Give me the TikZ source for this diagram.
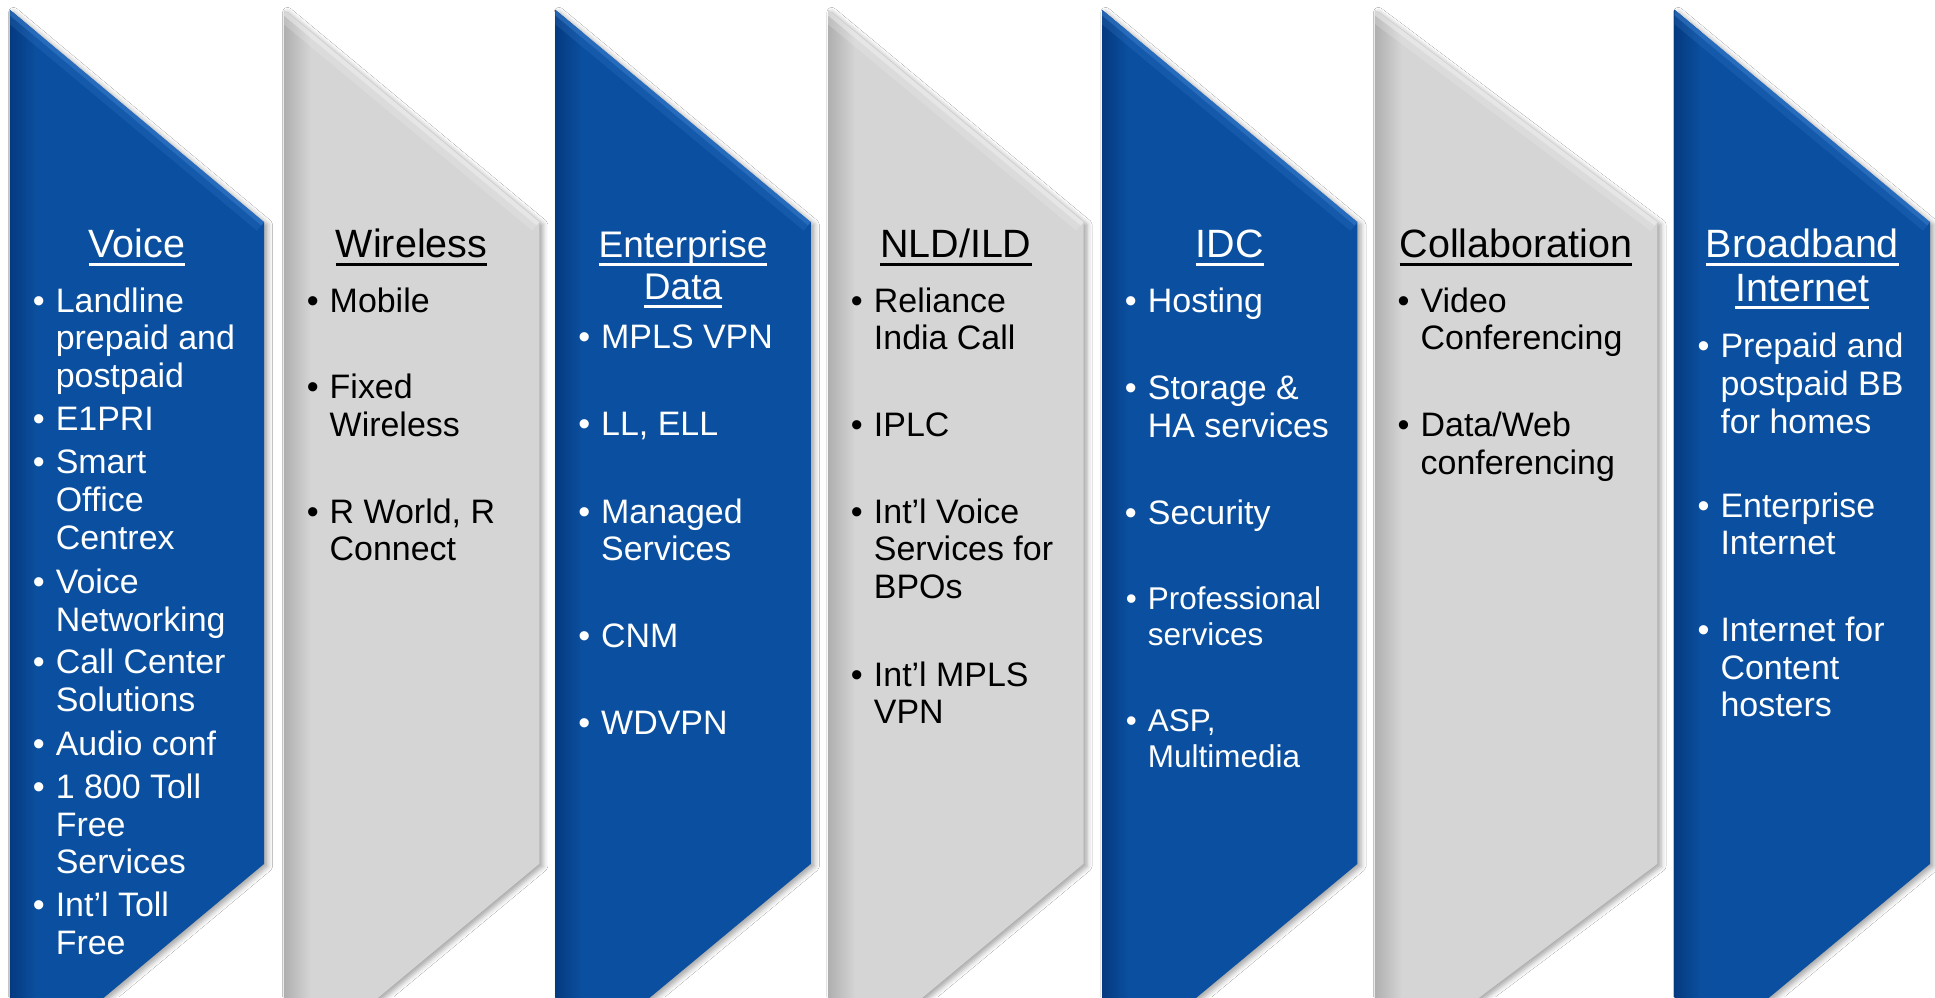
\documentclass[tikz,border=0pt]{standalone}
\usepackage{fontspec}
\setmainfont{Liberation Sans}
\usetikzlibrary{shadows.blur}

\definecolor{bmain}{HTML}{0B50A0}
\definecolor{bdark}{HTML}{053A80}
\definecolor{bhl}{HTML}{3D82D2}
\definecolor{gmain}{HTML}{D5D5D5}
\definecolor{gdark}{HTML}{AFAFAF}
\definecolor{ghl}{HTML}{F4F4F4}

% thick underline for the column headings
\newcommand\ulx[1]{\setbox0\hbox{#1}\rlap{\rule[-6.5pt]{\wd0}{2.2pt}}\box0}

% one chevron panel: #1 left x, #2 right x, #3 fill, #4 edge shade, #5 highlight
\newcommand\chev[5]{%
  \fill[#3, blur shadow={shadow xshift=3pt, shadow yshift=-2pt,
        shadow blur radius=4pt, shadow opacity=35}]
    (#1,8) -- (#2,180) -- (#2,700) -- (#1,872) -- cycle;
  \begin{scope}
    \clip (#1,8) -- (#2,180) -- (#2,700) -- (#1,872) -- cycle;
    \shade[left color=#4, right color=#3] (#1,0) rectangle ({#1+22},900);
    \draw[#5, line width=18pt, opacity=.22] (#1,8) -- (#2,180);
    \draw[#5, line width=7pt, opacity=.45] (#1,8) -- (#2,180);
  \end{scope}}

% bulleted item: [node style] {x} {first baseline} {line skip} {name} {lines}
\newcommand\bul[6][]{%
  \foreach \ln [count=\k] in {#6}{%
    \node[itm,#1] (#5-\k) at (#2,{#3+(\k-1)*#4})
      {\ifnum\k=1\llap{•\hspace{9pt}}\fi\ln};}}

\tikzset{
  itm/.style={anchor=base west, inner sep=0pt,
              font=\fontsize{27.5}{30.5}\selectfont},
  itmsmall/.style={font=\fontsize{25.5}{29}\selectfont},
  ttl/.style={anchor=base, inner sep=0pt,
              font=\fontsize{32}{36}\selectfont},
  ttlsmall/.style={font=\fontsize{30}{34}\selectfont},
  onblue/.style={every node/.append style={text=white}},
  ongray/.style={every node/.append style={text=black}}
}

\begin{document}
\begin{tikzpicture}[x=1pt, y=-1pt]
\useasboundingbox (0,0) rectangle (1568,808);
\fill[white] (0,0) rectangle (1568,808);
\begin{scope}
\clip (0,0) rectangle (1568,808);

\chev{8}{214}{bmain}{bdark}{bhl}
\chev{230}{437}{gmain}{gdark}{ghl}
\chev{450}{657}{bmain}{bdark}{bhl}
\chev{671}{878}{gmain}{gdark}{ghl}
\chev{893}{1100}{bmain}{bdark}{bhl}
\chev{1114}{1343}{gmain}{gdark}{ghl}
\chev{1357}{1564}{bmain}{bdark}{bhl}

% Voice
\begin{scope}[onblue]
  \node[ttl] (voice) at (111,209) {\ulx{Voice}};
  \bul{45}{253}{30.5}{v1}{Landline, prepaid and, postpaid}
  \bul{45}{349}{30.5}{v2}{E1PRI}
  \bul{45}{384}{30.5}{v3}{Smart, Office, Centrex}
  \bul{45}{481}{30.5}{v4}{Voice, Networking}
  \bul{45}{546}{30.5}{v5}{Call Center, Solutions}
  \bul{45}{612}{30.5}{v6}{Audio conf}
  \bul{45}{647}{30.5}{v7}{1 800 Toll, Free, Services}
  \bul{45}{743}{30.5}{v8}{Int’l Toll, Free}
\end{scope}

% Wireless
\begin{scope}[ongray]
  \node[ttl] (wireless) at (333.5,209) {\ulx{Wireless}};
  \bul{267}{253}{30.5}{w1}{Mobile}
  \bul{267}{323}{30.5}{w2}{Fixed, Wireless}
  \bul{267}{424}{30.5}{w3}{{R World, R}, Connect}
\end{scope}

% Enterprise Data
\begin{scope}[onblue]
  \node[ttl, ttlsmall] (ent1) at (553.5,209) {\ulx{Enterprise}};
  \node[ttl, ttlsmall] (ent2) at (553.5,243) {\ulx{Data}};
  \bul{487}{282}{30.5}{e1}{MPLS VPN}
  \bul{487}{353}{30.5}{e2}{{LL, ELL}}
  \bul{487}{424}{30.5}{e3}{Managed, Services}
  \bul{487}{525}{30.5}{e4}{CNM}
  \bul{487}{595}{30.5}{e5}{WDVPN}
\end{scope}

% NLD/ILD
\begin{scope}[ongray]
  \node[ttl] (nld) at (774.5,209) {\ulx{NLD/ILD}};
  \bul{708}{253}{30.5}{n1}{Reliance, India Call}
  \bul{708}{354}{30.5}{n2}{IPLC}
  \bul{708}{424}{30.5}{n3}{Int’l Voice, Services for, BPOs}
  \bul{708}{556}{30.5}{n4}{Int’l MPLS, VPN}
\end{scope}

% IDC
\begin{scope}[onblue]
  \node[ttl] (idc) at (996.5,209) {\ulx{IDC}};
  \bul{930}{253}{30.5}{i1}{Hosting}
  \bul{930}{324}{30.5}{i2}{Storage \&, HA services}
  \bul{930}{425}{30.5}{i3}{Security}
  \bul[itmsmall]{930}{494}{29}{i4}{Professional, services}
  \bul[itmsmall]{930}{593}{29}{i5}{{ASP,}, Multimedia}
\end{scope}

% Collaboration
\begin{scope}[ongray]
  \node[ttl] (collab) at (1228.5,209) {\ulx{Collaboration}};
  \bul{1151}{253}{30.5}{c1}{Video, Conferencing}
  \bul{1151}{354}{30.5}{c2}{Data/Web, conferencing}
\end{scope}

% Broadband Internet
\begin{scope}[onblue]
  \node[ttl] (bb1) at (1460.5,209) {\ulx{Broadband}};
  \node[ttl] (bb2) at (1460.5,244) {\ulx{Internet}};
  \bul{1394}{290}{30.5}{b1}{Prepaid and, postpaid BB, for homes}
  \bul{1394}{419}{30.5}{b2}{Enterprise, Internet}
  \bul{1394}{520}{30.5}{b3}{Internet for, Content, hosters}
\end{scope}

\end{scope}
\end{tikzpicture}
\end{document}
